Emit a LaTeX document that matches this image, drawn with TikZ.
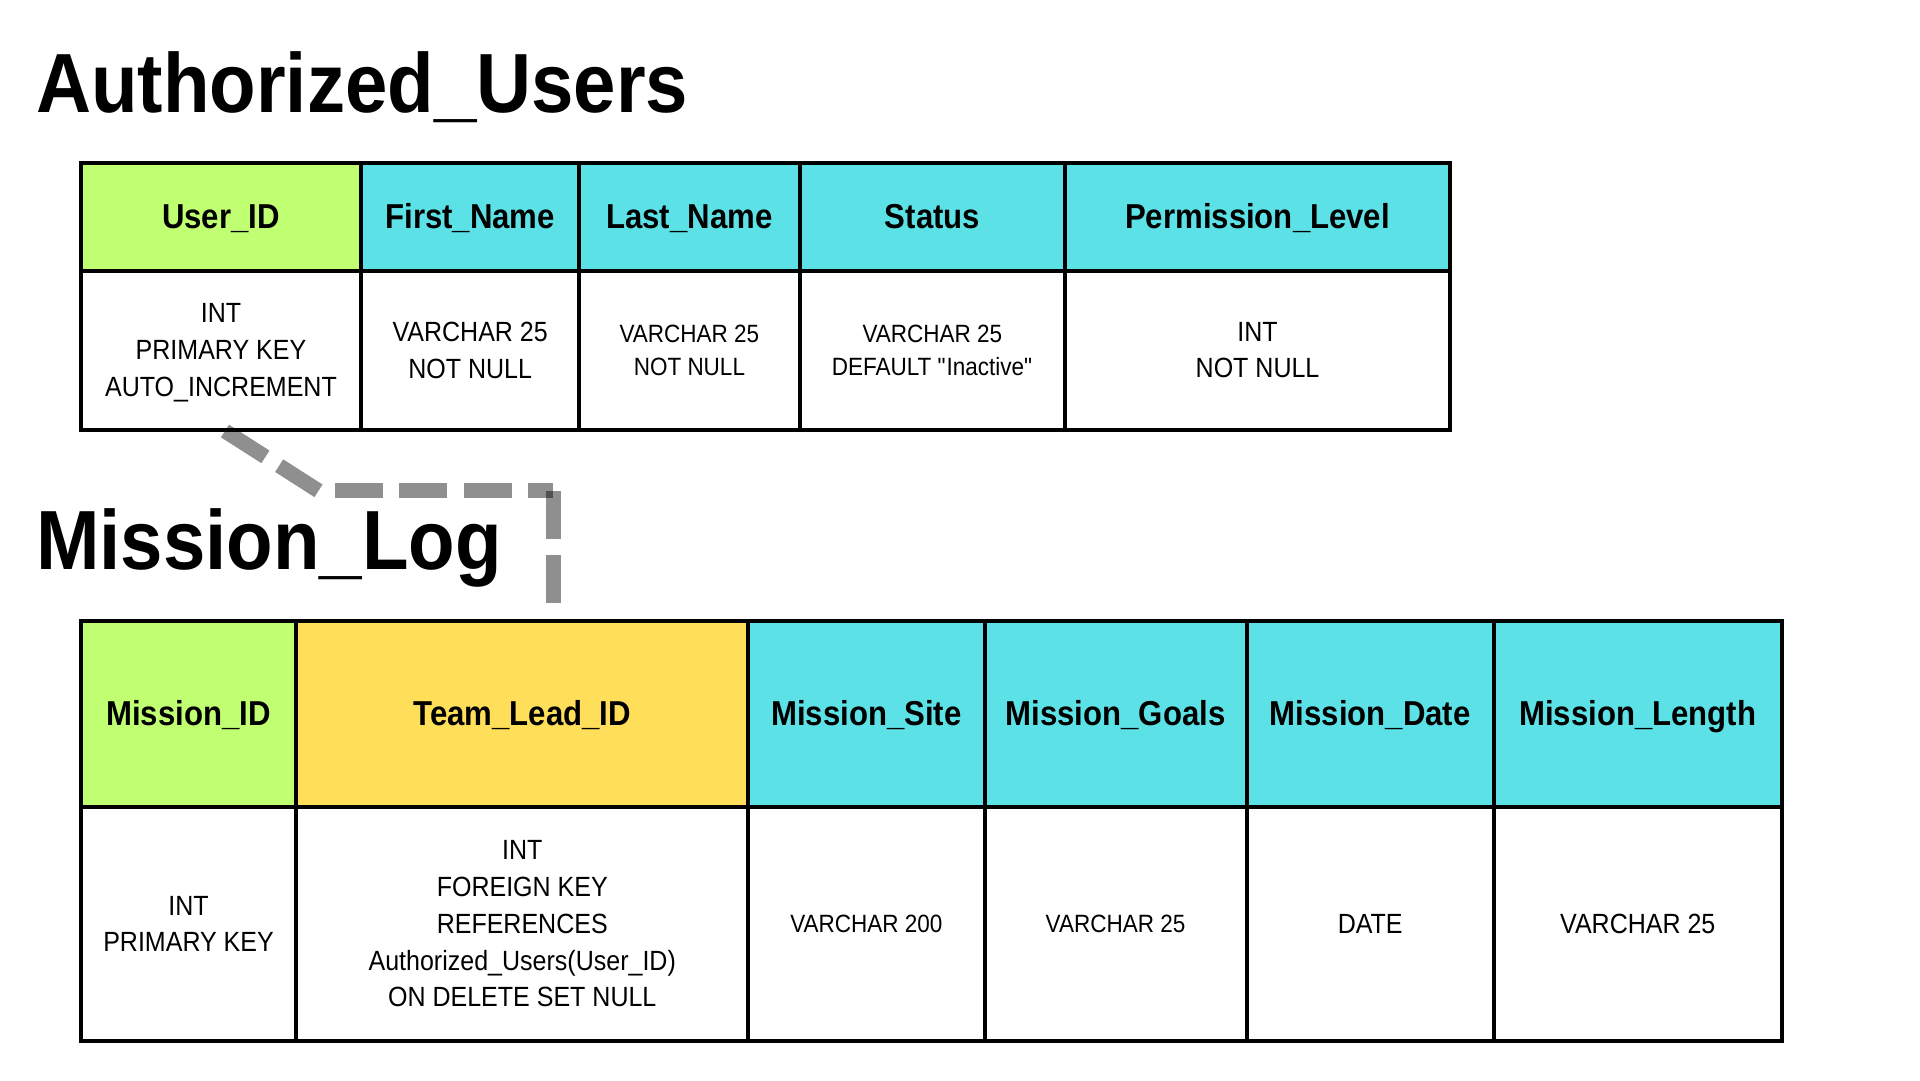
\documentclass[tikz,border=0pt]{standalone}
\usepackage{fontspec}
\setmainfont{Liberation Sans}[FakeStretch=0.9]
\newfontfamily\titlefont{Liberation Sans}[FakeStretch=0.907]
\definecolor{pkgreen}{HTML}{C1FF72}
\definecolor{colcyan}{HTML}{5CE1E6}
\definecolor{fkyellow}{HTML}{FFDE59}
\newcommand\mkcell[7]{\node[#6, minimum width={(#4-#2)*1pt}, minimum height={(#5-#3)*1pt}] (#1) at ({(#2+#4)/2},{(#3+#5)/2}) {#7};}
\begin{document}
\begin{tikzpicture}[x=1pt,y=-1pt,
  cellbox/.style={draw=black, line width=4pt, inner sep=0pt, outer sep=0pt, align=center, text=black},
  hdr/.style={cellbox, font=\bfseries\fontsize{34.6}{40}\selectfont, text height=23.5pt, text depth=0pt},
  bodybig/.style={cellbox, fill=white, font=\fontsize{27.8}{36.7}\selectfont},
  bodysm/.style={cellbox, fill=white, font=\fontsize{25}{33}\selectfont},
  titletext/.style={anchor=base west, inner sep=0pt, font=\titlefont\bfseries\fontsize{84}{90}\selectfont},
  fklink/.style={draw=black, draw opacity=0.44, line width=15pt, dash pattern=on 48pt off 16.3pt}
]
\useasboundingbox[fill=white] (0,0) rectangle (1920,1080);

% Titles
\node[titletext] (t1) at (36,112) {Authorized\_Users};
\node[titletext] (t2) at (36,569) {Mission\_Log};

% Authorized_Users table
\mkcell{uidh}{80.8}{162.9}{361.2}{270.6}{hdr, fill=pkgreen}{User\_ID}
\mkcell{fnh}{361.2}{162.9}{579.2}{270.6}{hdr, fill=colcyan}{First\_Name}
\mkcell{lnh}{579.2}{162.9}{799.6}{270.6}{hdr, fill=colcyan}{Last\_Name}
\mkcell{sth}{799.6}{162.9}{1065.3}{270.6}{hdr, fill=colcyan}{Status}
\mkcell{plh}{1065.3}{162.9}{1449.8}{270.6}{hdr, fill=colcyan}{Permission\_Level}

\mkcell{uidb}{80.8}{270.6}{361.2}{429.8}{bodybig}{\rule{0pt}{24pt}INT\\PRIMARY KEY\\AUTO\_INCREMENT}
\mkcell{fnb}{361.2}{270.6}{579.2}{429.8}{bodybig}{VARCHAR 25\\NOT NULL}
\mkcell{lnb}{579.2}{270.6}{799.6}{429.8}{bodysm}{VARCHAR 25\\NOT NULL}
\mkcell{stb}{799.6}{270.6}{1065.3}{429.8}{bodysm}{VARCHAR 25\\DEFAULT \textquotedbl Inactive\textquotedbl}
\mkcell{plb}{1065.3}{270.6}{1449.8}{429.8}{bodybig}{INT\\NOT NULL}

% Mission_Log table
\mkcell{midh}{80.8}{620.8}{296.3}{807}{hdr, fill=pkgreen}{Mission\_ID}
\mkcell{tlh}{296.3}{620.8}{748.2}{807}{hdr, fill=fkyellow}{Team\_Lead\_ID}
\mkcell{msh}{748.2}{620.8}{984.5}{807}{hdr, fill=colcyan}{Mission\_Site}
\mkcell{mgh}{984.5}{620.8}{1246.5}{807}{hdr, fill=colcyan}{Mission\_Goals}
\mkcell{mdh}{1246.5}{620.8}{1493.9}{807}{hdr, fill=colcyan}{Mission\_Date}
\mkcell{mlh}{1493.9}{620.8}{1781.7}{807}{hdr, fill=colcyan}{Mission\_Length}

\mkcell{midb}{80.8}{807}{296.3}{1040.8}{bodybig}{INT\\PRIMARY KEY}
\mkcell{tlb}{296.3}{807}{748.2}{1040.8}{bodybig}{INT\\FOREIGN KEY\\REFERENCES\\Authorized\_Users(User\_ID)\\ON DELETE SET NULL}
\mkcell{msb}{748.2}{807}{984.5}{1040.8}{bodysm}{VARCHAR 200}
\mkcell{mgb}{984.5}{807}{1246.5}{1040.8}{bodysm}{VARCHAR 25}
\mkcell{mdb}{1246.5}{807}{1493.9}{1040.8}{bodybig}{DATE}
\mkcell{mlb}{1493.9}{807}{1781.7}{1040.8}{bodybig}{VARCHAR 25}

% Foreign key link
\coordinate (lkA) at (225,431);
\coordinate (lkB) at (318.5,490.8);
\coordinate (lkC) at (335,490.8);
\coordinate (lkD) at (553.3,490.8);
\coordinate (lkE) at (553.3,602.7);
\draw[fklink] (lkA) -- (lkB);
\draw[fklink] (lkC) -- (lkD);
\draw[fklink] (lkD) -- (lkE);
\end{tikzpicture}
\end{document}
